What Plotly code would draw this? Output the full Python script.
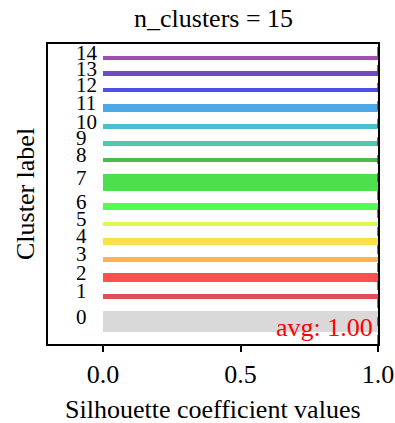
import plotly.graph_objects as go

clusters = list(range(15))
sizes = [18, 4, 7, 4, 6, 3, 6, 14, 4, 4, 4, 7, 3, 4, 3]
silhouette = [1.0] * 15
colors = ["#d9d9d9", "#e05050", "#ff5050", "#ffb44c", "#fbe04c", "#e0f850",
          "#50ff50", "#4ce04c", "#4cbb4c", "#50c8aa", "#4bbfd0", "#4ea8e6",
          "#4f4fe6", "#6e4cc0", "#a04fb0"]
avg_score = 1.0
gap = 10

# compute y positions like the sklearn silhouette plot
centers = []
y_lower = gap
for s in sizes:
    centers.append(y_lower + s / 2)
    y_lower += s + gap
y_top = y_lower

font = "Liberation Serif"
fig = go.Figure()
fig.add_trace(go.Bar(
    x=silhouette, y=centers, width=sizes, base=0, orientation="h",
    marker=dict(color=colors, line=dict(width=0)), showlegend=False,
    hoverinfo="skip"))

for c, yc in zip(clusters, centers):
    fig.add_annotation(x=-0.106, y=yc + 4, text=str(c), showarrow=False,
                       xanchor="left", yanchor="middle",
                       font=dict(family=font, size=21, color="black"))

fig.add_shape(type="line", x0=avg_score, x1=avg_score, y0=0, y1=y_top,
              line=dict(color="red", dash="dash", width=1.5))
fig.add_annotation(x=0.99, y=centers[0] - 5, text=f"avg: {avg_score:.2f}",
                   showarrow=False, xanchor="right", yanchor="middle",
                   font=dict(family=font, size=26, color="red"))

H = 300
fig.add_annotation(xref="paper", yref="paper", x=0.5, y=(344 - 18) / H,
                   text="n_clusters = 15", showarrow=False,
                   xanchor="center", yanchor="middle",
                   font=dict(family=font, size=26, color="black"))
fig.add_annotation(xref="paper", yref="paper", x=0.5, y=(344 - 409) / H,
                   text="Silhouette coefficient values", showarrow=False,
                   xanchor="center", yanchor="middle",
                   font=dict(family=font, size=26, color="black"))
fig.add_annotation(xref="paper", yref="paper", x=(25 - 48) / 330, y=0.5,
                   text="Cluster label", showarrow=False, textangle=-90,
                   xanchor="center", yanchor="middle",
                   font=dict(family=font, size=26, color="black"))

fig.update_layout(
    width=395, height=423,
    margin=dict(l=48, r=17, t=44, b=79),
    paper_bgcolor="white", plot_bgcolor="white",
    bargap=0,
)
fig.update_xaxes(range=[-0.2, 1.0], tickvals=[0, 0.5, 1.0],
                 ticktext=["0.0", "0.5", "1.0"], ticks="outside", ticklen=6,
                 tickwidth=1.5, tickcolor="black", showline=True, linecolor="black",
                 linewidth=2, mirror=True, showgrid=False, zeroline=False,
                 automargin=False,
                 tickfont=dict(family=font, size=26, color="black"))
fig.update_yaxes(range=[0, y_top], showticklabels=False, ticks="",
                 showline=True, linecolor="black", linewidth=2, mirror=True,
                 showgrid=False, zeroline=False, automargin=False)

fig.write_html("out.html",
               config={"displayModeBar": False},
               post_script="document.body.style.margin='0';"
                           "document.body.style.overflow='hidden';")
